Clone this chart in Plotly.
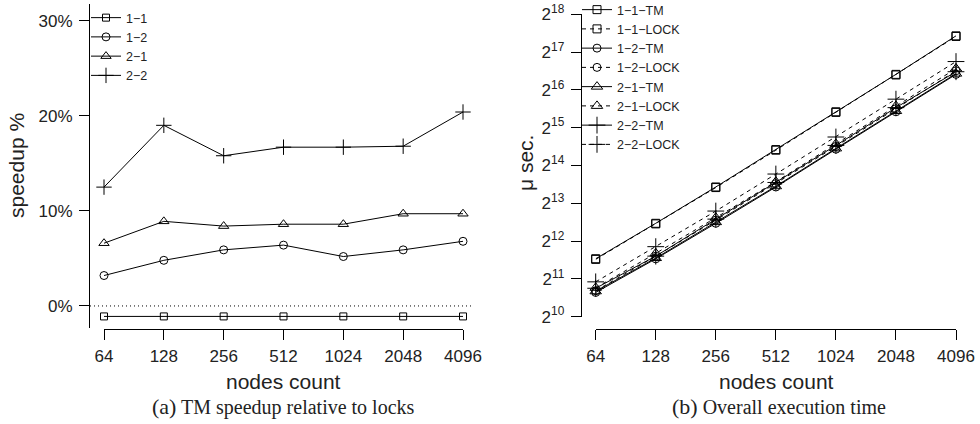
import plotly.graph_objects as go

W, H = 980, 424

# ---------------- data ----------------
nodes = ["64", "128", "256", "512", "1024", "2048", "4096"]

# (a) TM speedup relative to locks, in %
speedup_11 = [-1.1, -1.1, -1.1, -1.1, -1.1, -1.1, -1.1]
speedup_12 = [3.2, 4.8, 5.9, 6.4, 5.2, 5.9, 6.8]
speedup_21 = [6.6, 8.9, 8.4, 8.6, 8.6, 9.7, 9.7]
speedup_22 = [12.5, 19.0, 15.8, 16.7, 16.7, 16.8, 20.4]
speedup_names = ["1\u22121", "1\u22122", "2\u22121", "2\u22122"]
speedup_ticks = [0, 10, 20, 30]
speedup_ticktext = ["0%", "10%", "20%", "30%"]

# (b) overall execution time, in micro-seconds
time_11_tm = [2960, 5670, 11040, 21920, 43840, 87100, 176550]
time_11_lock = [2925, 5610, 10920, 21680, 43360, 86150, 174620]
time_12_tm = [1595, 2955, 5670, 11035, 22070, 43840, 87100]
time_12_lock = [1645, 3100, 6005, 11740, 23220, 46410, 93060]
time_21_tm = [1629, 2998, 5793, 11192, 22385, 44470, 88280]
time_21_lock = [1737, 3266, 6283, 12155, 24320, 48785, 96890]
time_22_tm = [1722, 3104, 6123, 11993, 23659, 47318, 91423]
time_22_lock = [1937, 3694, 7097, 13996, 27610, 55267, 110165]
time_names = ["1\u22121\u2212TM", "1\u22121\u2212LOCK", "1\u22122\u2212TM", "1\u22122\u2212LOCK",
              "2\u22121\u2212TM", "2\u22121\u2212LOCK", "2\u22122\u2212TM", "2\u22122\u2212LOCK"]
time_exponents = list(range(10, 19))

# ---------------- helpers ----------------
def px(x):
    return x / W

def py(y):
    return 1 - y / H

SANS = "Liberation Sans, Arial, sans-serif"
SERIF = "Liberation Serif, Times New Roman, serif"

symbols = ["square-open", "circle-open", "triangle-up-open", "cross-thin-open"]
sizes_a = [7, 8, 9, 11]
sizes_b = [8, 8, 10, 12]

fig = go.Figure()

# ---- panel (a)
for name, vals, sym, sz in zip(speedup_names,
                               [speedup_11, speedup_12, speedup_21, speedup_22],
                               symbols, sizes_a):
    fig.add_trace(go.Scatter(
        x=nodes, y=vals, name=name, mode="lines+markers",
        xaxis="x", yaxis="y", legend="legend", cliponaxis=False,
        line=dict(color="black", width=1),
        marker=dict(symbol=sym, size=sz, color="black", line=dict(width=1, color="black")),
    ))

# ---- panel (b)
series_b = [time_11_tm, time_11_lock, time_12_tm, time_12_lock,
            time_21_tm, time_21_lock, time_22_tm, time_22_lock]
for i, (name, vals) in enumerate(zip(time_names, series_b)):
    sym = symbols[i // 2]
    sz = sizes_b[i // 2]
    dash = "solid" if i % 2 == 0 else "4px,4px"
    fig.add_trace(go.Scatter(
        x=nodes, y=vals, name=name, mode="lines+markers",
        xaxis="x2", yaxis="y2", legend="legend2", cliponaxis=False,
        line=dict(color="black", width=1, dash=dash),
        marker=dict(symbol=sym, size=sz, color="black", line=dict(width=1, color="black")),
    ))

axis_common = dict(
    showline=True, linecolor="black", linewidth=1,
    ticks="outside", ticklen=10, tickwidth=1, tickcolor="black",
    showgrid=False, zeroline=False, automargin=False,
    tickfont=dict(family=SANS, size=17, color="#222"),
)

fig.update_layout(
    width=W, height=H,
    margin=dict(l=0, r=0, t=0, b=0, pad=0, autoexpand=False),
    paper_bgcolor="white", plot_bgcolor="white",
    font=dict(family=SANS, size=13, color="#222"),
    xaxis=dict(domain=[px(104), px(463)], type="category", range=[0, 6],
               anchor="free", position=py(329), ticklabelstandoff=2, **axis_common),
    yaxis=dict(domain=[py(328.3), py(4)], range=[-2.35, 31.76],
               tickvals=speedup_ticks, ticktext=speedup_ticktext,
               anchor="free", position=px(89), ticklabelstandoff=3, **axis_common),
    xaxis2=dict(domain=[px(595.7), px(956)], type="category", range=[0, 6],
                anchor="free", position=py(329), ticklabelstandoff=2, **axis_common),
    yaxis2=dict(domain=[py(316.6), py(14.3)], type="log",
                range=[10 * 0.30103, 18 * 0.30103],
                tickvals=[2 ** e for e in time_exponents],
                ticktext=["2<sup>%d</sup>" % e for e in time_exponents],
                anchor="free", position=px(580.7), ticklabelstandoff=3, **axis_common),
    legend=dict(x=px(86), y=py(3), xanchor="left", yanchor="top",
                bgcolor="rgba(0,0,0,0)", borderwidth=0, tracegroupgap=0,
                font=dict(family=SANS, size=12.5, color="#222")),
    legend2=dict(x=px(577), y=py(-5), xanchor="left", yanchor="top",
                 bgcolor="rgba(0,0,0,0)", borderwidth=0, tracegroupgap=0,
                 font=dict(family=SANS, size=12.5, color="#222")),
    showlegend=True,
)

# dotted 0% reference line
fig.add_shape(type="line", xref="paper", yref="y", x0=px(90), x1=px(474), y0=0, y1=0,
              line=dict(color="black", width=1, dash="1px,3px"))

# axis titles and captions
ann = [
    dict(text="speedup %", x=px(16), y=py(166), textangle=-90, size=21, family=SANS),
    dict(text="nodes count", x=px(283.5), y=py(381), textangle=0, size=21, family=SANS),
    dict(text="\u03bc sec.", x=px(525), y=py(163), textangle=-90, size=21, family=SANS),
    dict(text="nodes count", x=px(776), y=py(381), textangle=0, size=21, family=SANS),
    dict(text="<span style='font-size:22px'>(a)</span> TM speedup relative to locks",
         x=px(283), y=py(406), textangle=0, size=20, family=SERIF),
    dict(text="<span style='font-size:22px'>(b)</span> Overall execution time",
         x=px(778.5), y=py(406), textangle=0, size=20, family=SERIF),
]
for a in ann:
    fig.add_annotation(text=a["text"], x=a["x"], y=a["y"], xref="paper", yref="paper",
                       xanchor="center", yanchor="middle", showarrow=False,
                       textangle=a["textangle"],
                       font=dict(family=a["family"], size=a["size"], color="#222"))

fig.write_html("out.html",
               config={"displayModeBar": False},
               post_script="document.body.style.margin='0';document.body.style.overflow='hidden';")
